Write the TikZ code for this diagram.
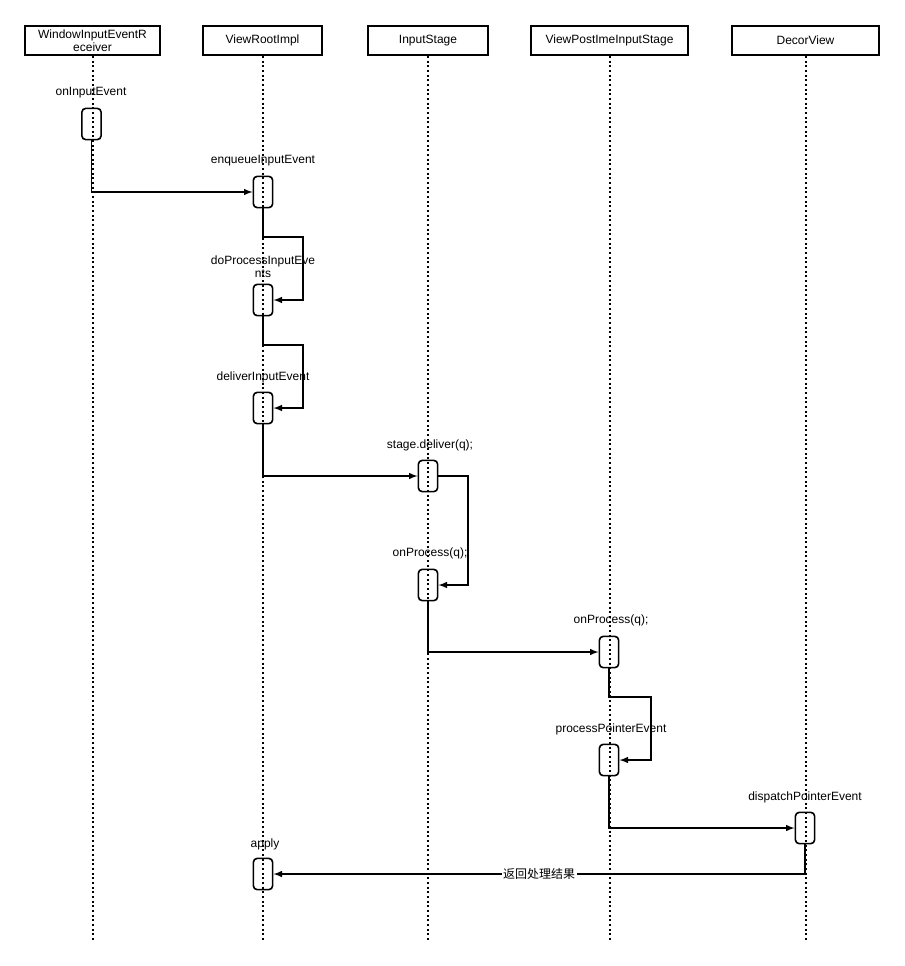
\documentclass[tikz,border=0pt]{standalone}
\usepackage{fontspec}
\setmainfont{Liberation Sans}
\newfontfamily\cjk{Noto Sans CJK SC}
\tikzset{every picture/.style={line width=0.75pt}}
\tikzset{
  head/.style={draw, line width=1.2pt, minimum width=#1, minimum height=22pt, inner sep=1pt, font=\fontsize{9}{10}\selectfont, align=center},
  act/.style={draw, line width=1.2pt, rounded corners=3pt, minimum width=14.5pt, minimum height=23.5pt, inner sep=0pt},
  lbl/.style={font=\fontsize{9}{10}\selectfont, align=center},
  life/.style={dotted, line width=1.5pt},
  msg/.style={line width=1.2pt, -latex}
}
\begin{document}
\begin{tikzpicture}[x=0.75pt,y=0.75pt,yscale=-1,xscale=1]
\useasboundingbox (0,0) rectangle (904,966);

% heads
\node[head=101pt] (wire) at (92.5,40.5) {WindowInputEventR\\eceiver};
\node[head=89pt] (vri) at (262.5,40.5) {ViewRootImpl};
\node[head=90pt] (is) at (428,40.5) {InputStage};
\node[head=118pt] (vpi) at (609.5,40.5) {ViewPostImeInputStage};
\node[head=110pt] (dv) at (805.5,40.5) {DecorView};

% lifelines
\draw[life] (wire.south) -- (92.5,940);
\draw[life] (vri.south) -- (262.5,940);
\draw[life] (is.south) -- (428,940);
\draw[life] (vpi.south) -- (609.5,940);
\draw[life] (dv.south) -- (805.5,940);

% activations
\node[act] (a1) at (91.5,124) {};
\node[act] (a2) at (263,192) {};
\node[act] (a3) at (263,300) {};
\node[act] (a4) at (263,408) {};
\node[act] (a5) at (428,476) {};
\node[act] (a6) at (428,585) {};
\node[act] (a7) at (609,652) {};
\node[act] (a8) at (609,760) {};
\node[act] (a9) at (805,828) {};
\node[act] (a10) at (263,874) {};

% labels
\node[lbl] at (91,93) {onInputEvent};
\node[lbl] at (263,161) {enqueueInputEvent};
\node[lbl] at (263,267) {doProcessInputEve\\nts};
\node[lbl] at (263,377) {deliverInputEvent};
\node[lbl] at (430,445) {stage.deliver(q);};
\node[lbl] at (430,553) {onProcess(q);};
\node[lbl] at (611,620) {onProcess(q);};
\node[lbl] at (611,729) {processPointerEvent};
\node[lbl] at (805,797) {dispatchPointerEvent};
\node[lbl] at (265,844) {apply};

% messages
\draw[msg] (a1.south) |- (a2.west);
\draw[msg] (a2.south) -- (263,237) -- (303,237) |- (a3.east);
\draw[msg] (a3.south) -- (263,345) -- (303,345) |- (a4.east);
\draw[msg] (a4.south) |- (a5.west);
\draw[msg] (a5.east) -- (468,476) |- (a6.east);
\draw[msg] (a6.south) |- (a7.west);
\draw[msg] (a7.south) -- (609,697) -- (651,697) |- (a8.east);
\draw[msg] (a8.south) |- (a9.west);
\draw[msg] (a9.south) |- node[pos=0.75, fill=white, inner sep=1pt, font=\cjk\fontsize{9}{10}\selectfont] {返回处理结果} (a10.east);

\end{tikzpicture}
\end{document}
